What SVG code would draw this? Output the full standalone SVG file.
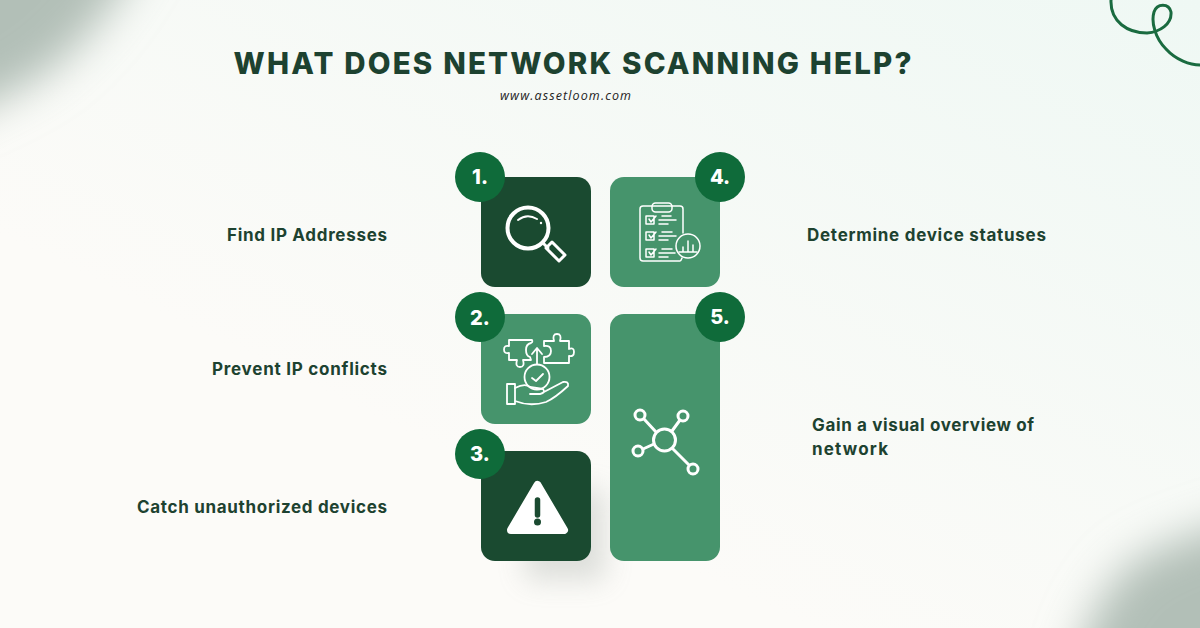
<svg xmlns="http://www.w3.org/2000/svg" width="1200" height="628" viewBox="0 0 1200 628">
<style>
.t{font-family:Inter,"Liberation Sans",sans-serif;font-weight:700;font-size:17px;fill:#1d4230}
.n{font-family:Inter,"Liberation Sans",sans-serif;font-weight:800;font-size:20px;fill:#fff;text-anchor:middle}
.d{fill:#1a4a30}.l{fill:#46946c}.b{fill:#0f6b3a}
.i{fill:none;stroke:#fff;stroke-linecap:round;stroke-linejoin:round}
</style>
<defs>
<linearGradient id="bg" x1="1" y1="0" x2="0.35" y2="0.7"><stop offset="0" stop-color="#eff8f4"/><stop offset="1" stop-color="#fcfbf8"/></linearGradient>
<filter id="bl" x="-50%" y="-50%" width="200%" height="200%"><feGaussianBlur stdDeviation="22"/></filter>
<filter id="sh" x="-50%" y="-50%" width="200%" height="200%"><feGaussianBlur stdDeviation="14"/></filter>
</defs>
<rect width="1200" height="628" fill="url(#bg)"/>
<g id="corners">
<path d="M-60,-60H150Q110,20 55,65Q25,90 -60,125Z" fill="#b2bfb7" filter="url(#bl)"/>
<path d="M1260,690H1070Q1085,610 1125,570Q1150,545 1260,515Z" fill="#b2bfb7" filter="url(#bl)"/>
</g>
<path id="swirl" d="M1111,0C1110,22 1128,33 1147,33C1160,32 1172,24 1171,12C1169,3 1157,3 1154,12C1151,22 1155,38 1166,49C1176,60 1190,65 1200,65" fill="none" stroke="#1a6b40" stroke-width="3"/>
<text x="233.500" y="73.500" textLength="678" lengthAdjust="spacing" style="font-family:Inter,'Liberation Sans',sans-serif;font-weight:800;font-size:29.500px;fill:#1d4230">WHAT DOES NETWORK SCANNING HELP?</text>
<text x="500" y="100" textLength="131" lengthAdjust="spacing" style="font-family:'Open Sans','Liberation Sans',sans-serif;font-style:italic;font-size:12.500px;fill:#222">www.assetloom.com</text>
<rect x="525" y="490" width="80" height="90" fill="#8c948e" opacity=".28" filter="url(#sh)"/>
<g id="node1">
<rect class="d" x="481" y="177" width="110" height="110" rx="14"/>
<g class="i" stroke-width="4"><circle cx="528" cy="228" r="20.500"/><path d="M543,243L548,248" stroke-width="3"/><path d="M546,248L552,242L565,255L559,261Z" stroke-width="3"/></g>
<path class="i" stroke-width="2" d="M518,220Q527,213 537,219"/><circle cx="541" cy="223" r="1.200" fill="#fff"/>
<circle class="b" cx="480" cy="177" r="25"/><text class="n" x="480" y="184">1.</text>
<text class="t" x="227" y="241" textLength="160">Find IP Addresses</text>
</g>
<g id="node2">
<rect class="l" x="481" y="314" width="110" height="110" rx="14"/>
<g class="i" stroke-width="1.800">
<path d="M509,340H532Q533,342 531,343Q526,344 526,350Q526,356 530,357L531,360H523Q525,367 520,367Q515,367 517,360H509V353Q504,354 504,349.500Q504,345 509,346Z"/>
<path d="M544,341H554Q552,334 557,334Q562,334 560,341H569V349Q574,347 574,352Q574,357 569,356V363H544V357Q551,357 551,351Q551,345 544,346Z"/>
<path d="M537,364V349M532,354L537,348L542,354"/>
<circle cx="537" cy="377" r="12.500"/><path d="M532,378L536,381L543,374"/>
<path d="M507,384H515V404H507Z"/><path d="M515,388Q525,383 530,387L543,389Q546,393 540,394H530M542,393L563,382Q569,381 568,386Q555,398 546,402Q530,407 515,401"/>
</g>
<circle class="b" cx="480" cy="317" r="25"/><text class="n" x="480" y="325">2.</text>
<text class="t" x="212" y="375" textLength="175">Prevent IP conflicts</text>
</g>
<g id="node3">
<rect class="d" x="481" y="451" width="110" height="110" rx="14"/>
<path d="M537.500,485L564,530H511Z" fill="#fff" stroke="#fff" stroke-width="8" stroke-linejoin="round"/>
<path d="M537.500,500V515" stroke="#1a4a30" stroke-width="5.500" stroke-linecap="round"/><circle cx="537.500" cy="522" r="3.500" fill="#1a4a30"/>
<circle class="b" cx="480" cy="454" r="25"/><text class="n" x="480" y="461">3.</text>
<text class="t" x="137" y="513" textLength="250">Catch unauthorized devices</text>
</g>
<g id="node4">
<rect class="l" x="610" y="177" width="110" height="110" rx="14"/>
<g class="i" stroke-width="1.500">
<path d="M683,233V209Q683,206 680,206H643Q640,206 640,209V258Q640,261 643,261H680Q681,261 682,258"/>
<rect x="652" y="203" width="20" height="9" rx="3.500"/>
<path d="M646,216H654V224H646ZM649,219L651,222L656,216M646,232H654V240H646ZM649,235L651,238L656,232M646,249H654V257H646ZM649,252L651,255L656,249"/>
<path d="M662,216H671M659,220H676M659,224H668M662,232H672M659,236H676M659,240H668M662,249H672M659,253H675M659,257H668"/>
<circle cx="688" cy="246" r="12"/><path d="M683,252V247M688,252V241M693,252V245M679,252H697"/>
</g>
<circle class="b" cx="720" cy="177" r="25"/><text class="n" x="720" y="184">4.</text>
<text class="t" x="807" y="241" textLength="239">Determine device statuses</text>
</g>
<g id="node5">
<rect class="l" x="610" y="314" width="110" height="247" rx="14"/>
<g class="i" stroke-width="3"><circle cx="664.500" cy="440" r="11"/><circle cx="640" cy="415" r="5"/><circle cx="683" cy="416" r="5"/><circle cx="638" cy="451" r="5"/><circle cx="693" cy="469" r="5"/><path d="M644,419L656,432M680,420L672,431M643,449L654,444M673,449L689,465"/></g>
<circle class="b" cx="720" cy="317" r="25"/><text class="n" x="720" y="324">5.</text>
<text class="t" x="812" y="431" textLength="222">Gain a visual overview of</text>
<text class="t" x="812" y="455" textLength="76">network</text>
</g>
</svg>
